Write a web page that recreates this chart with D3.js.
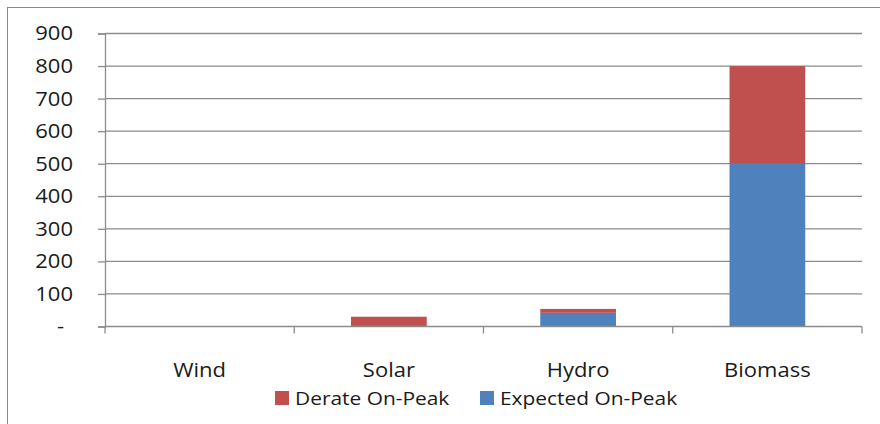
<!DOCTYPE html>
<html>
<head>
<meta charset="utf-8">
<script src="https://cdn.jsdelivr.net/npm/d3@7"></script>
<style>
  html, body { margin: 0; padding: 0; background: #fff; }
  svg { display: block; }
  text { font-family: "Open Sans", "Liberation Sans", sans-serif; fill: #1a1a1a; }
</style>
</head>
<body>
<svg id="chart" width="880" height="424"></svg>
<script>
// Renewable capacity by resource, stacked on-peak components (MW)
const categories = ["Wind", "Solar", "Hydro", "Biomass"];
const expectedOnPeak = [0, 0, 42, 500];
const derateOnPeak = [0, 30, 12, 300];
const yTicks = [0, 100, 200, 300, 400, 500, 600, 700, 800, 900];
const seriesNames = ["Derate On-Peak", "Expected On-Peak"];
const seriesColors = { "Expected On-Peak": "#4F81BD", "Derate On-Peak": "#C0504D" };

const svg = d3.select("#chart");
const W = 880, H = 424;
const margin = { left: 105, right: 18, top: 33.5, bottom: 97.5 };
const plotW = W - margin.left - margin.right;
const plotH = H - margin.top - margin.bottom;
const stretch = 1.1; // slightly wide lettering

// Outer frame (only left and top edges fall within the view)
svg.append("rect")
  .attr("x", 7.5).attr("y", 7.5)
  .attr("width", W + 10).attr("height", H + 10)
  .attr("fill", "none").attr("stroke", "#8a8a8a").attr("stroke-width", 1);

const g = svg.append("g").attr("transform", `translate(${margin.left},${margin.top})`);

const x = d3.scaleBand().domain(categories).range([0, plotW]).paddingInner(0.6).paddingOuter(0.3);
const xEdge = d3.scaleLinear().domain([0, categories.length]).range([0, plotW]);
const y = d3.scaleLinear().domain([0, 900]).range([plotH, 0]);

const rows = categories.map((c, i) => ({
  category: c,
  "Expected On-Peak": expectedOnPeak[i],
  "Derate On-Peak": derateOnPeak[i]
}));
const stack = d3.stack().keys(["Expected On-Peak", "Derate On-Peak"]);
const layers = stack(rows);

// Horizontal gridlines
g.append("g")
  .selectAll("line")
  .data(yTicks.filter(t => t > 0))
  .join("line")
  .attr("x1", 0).attr("x2", plotW)
  .attr("y1", d => y(d)).attr("y2", d => y(d))
  .attr("stroke", "#8c8c8c").attr("stroke-width", 1.3);

// Y axis
const yAxis = g.append("g")
  .call(d3.axisLeft(y).tickValues(yTicks).tickSize(7).tickPadding(25)
    .tickFormat(d => d === 0 ? "-" : d3.format("d")(d)));
yAxis.select(".domain").attr("stroke", "#8c8c8c").attr("stroke-width", 1.3);
yAxis.selectAll(".tick line").attr("stroke", "#8c8c8c").attr("stroke-width", 1.3);
yAxis.selectAll(".tick text")
  .style("font-size", "20px").attr("fill", "#1a1a1a")
  .attr("x", 0)
  .attr("transform", d => `translate(${d === 0 ? -41 : -32},0) scale(${stretch},1)`);

// Bars
g.append("g")
  .selectAll("g")
  .data(layers)
  .join("g")
  .attr("fill", d => seriesColors[d.key])
  .selectAll("rect")
  .data(d => d)
  .join("rect")
  .attr("x", d => x(d.data.category))
  .attr("width", x.bandwidth())
  .attr("y", d => y(d[1]))
  .attr("height", d => y(d[0]) - y(d[1]));

// X axis baseline and category ticks
g.append("line")
  .attr("x1", 0).attr("x2", plotW)
  .attr("y1", plotH).attr("y2", plotH)
  .attr("stroke", "#8c8c8c").attr("stroke-width", 1.3);
g.append("g")
  .selectAll("line")
  .data(d3.range(categories.length + 1))
  .join("line")
  .attr("x1", d => xEdge(d)).attr("x2", d => xEdge(d))
  .attr("y1", plotH).attr("y2", plotH + 7)
  .attr("stroke", "#8c8c8c").attr("stroke-width", 1.3);

// Category labels
g.append("g")
  .selectAll("text")
  .data(categories)
  .join("text")
  .attr("transform", d => `translate(${x(d) + x.bandwidth() / 2},${plotH + 50}) scale(${stretch},1)`)
  .attr("text-anchor", "middle")
  .style("font-size", "20px")
  .text(d => d);

// Legend
const legendX = [275, 480];
const legend = svg.append("g");
seriesNames.forEach((name, i) => {
  legend.append("rect")
    .attr("x", legendX[i]).attr("y", 391)
    .attr("width", 14).attr("height", 14)
    .attr("fill", seriesColors[name]);
  legend.append("text")
    .attr("transform", `translate(${legendX[i] + 20},405) scale(${stretch},1)`)
    .style("font-size", "19px")
    .text(name);
});
</script>
</body>
</html>
